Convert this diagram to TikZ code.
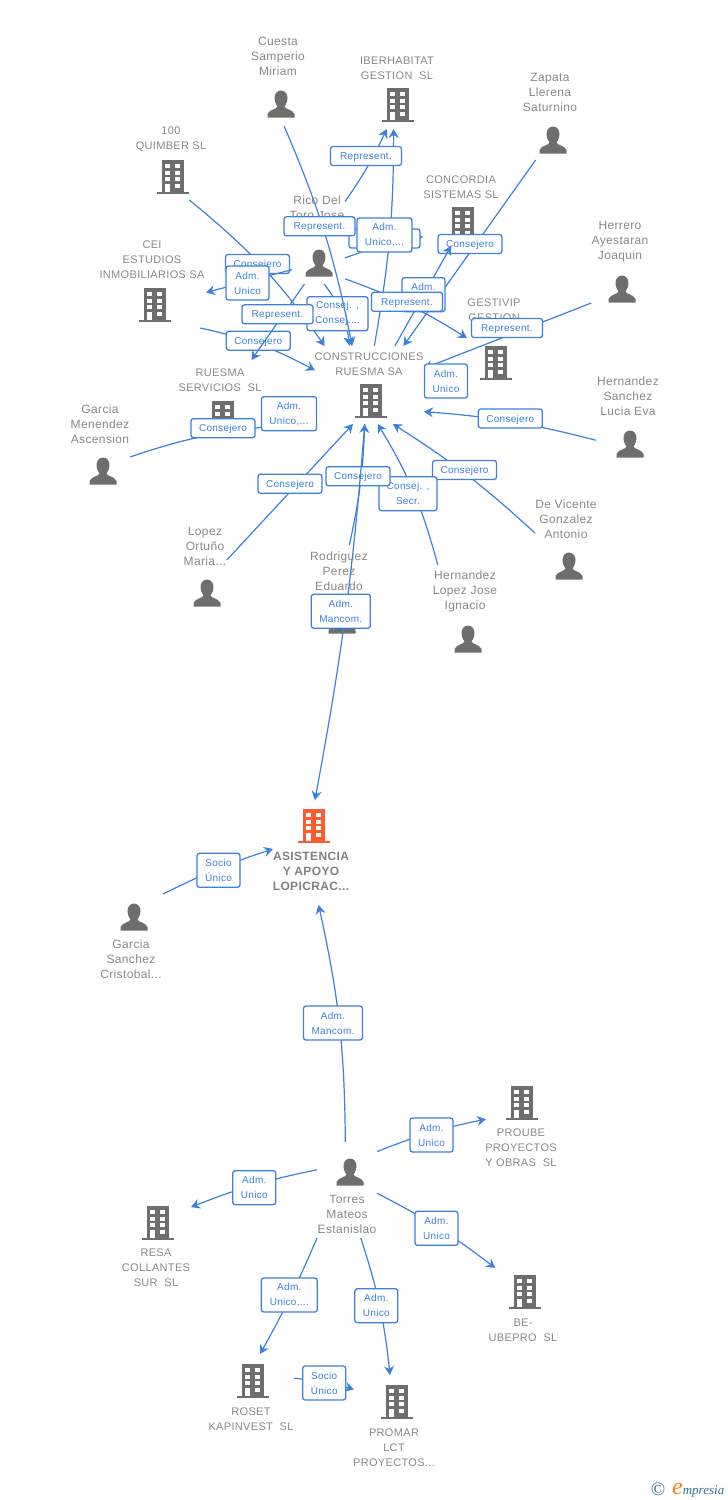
\documentclass[tikz,border=0pt]{standalone}
\usepackage{fontspec}
\setmainfont[LetterSpace=3]{Liberation Sans}
\newfontfamily\logofont{Liberation Serif}
\usetikzlibrary{arrows.meta}
\definecolor{icongrey}{HTML}{6E6E6E}
\definecolor{iconred}{HTML}{FF5B2E}
\definecolor{namegrey}{HTML}{888888}
\definecolor{relblue}{HTML}{3C80E0}
\definecolor{logoteal}{HTML}{2F6F8F}
\definecolor{logoorange}{HTML}{F58220}
\tikzset{
	entitybox/.style={rectangle,inner sep=0pt,outer sep=0pt},
	nametext/.style={align=center,text=namegrey,font=\fontsize{12}{15}\selectfont},
	capstext/.style={align=center,text=namegrey,yshift=-1pt,font=\fontsize{11}{15}\selectfont},
	maintext/.style={align=center,text=namegrey!95!black,font=\fontsize{12}{15}\selectfont\bfseries},
	relbox/.style={draw=relblue,line width=1.3pt,fill=white,rounded corners=2.5pt,align=center,text=relblue,inner sep=0pt,minimum height=19pt,font=\fontsize{10}{15}\selectfont},
	relone/.style={relbox,minimum width=64pt,text height=9.3pt,text depth=2pt},
	relrep/.style={relbox,minimum width=71pt,text height=9.3pt,text depth=2pt},
	reltwo/.style={relbox,minimum width=43pt,minimum height=34pt},
	rel/.style={draw=relblue,line width=1.2pt,-{Stealth[length=9pt,width=10pt,inset=3pt]}},
	relplain/.style={draw=relblue,line width=1.2pt},
	personicon/.pic={
		\fill[icongrey] (0,-13.5) .. controls (4,-13.5) and (6.5,-10) .. (6.5,-6) .. controls (6.5,-2) and (4.5,1) .. (3.5,2.5) .. controls (3.5,5) and (12,5.5) .. (13.5,10) -- (13.5,13.5) -- (-13.5,13.5) -- (-13.5,10) .. controls (-12,5.5) and (-3.5,5) .. (-3.5,2.5) .. controls (-4.5,1) and (-6.5,-2) .. (-6.5,-6) .. controls (-6.5,-10) and (-4,-13.5) .. (0,-13.5) -- cycle;
	},
	buildicon/.pic={
		\fill[#1] (-11,-17) rectangle (11,15);
		\fill[#1] (-16,14.5) rectangle (16,17);
		\foreach \wy in {-13,-6.3,0.3} {
			\fill[white] (-7.7,\wy) rectangle +(5,4);
			\fill[white] (2.3,\wy) rectangle +(5,4);
		}
		\fill[white] (-7.7,7) rectangle (-2.7,14.5);
		\fill[white] (2.3,7) rectangle (7.3,11.3);
	},
}
\begin{document}
\begin{tikzpicture}[x=1pt,y=-1pt]
	\useasboundingbox (0,0) rectangle (728,1500);

	\node[entitybox,minimum width=60pt,minimum height=93pt] (cuesta) at (280,79.5) {};
	\node[nametext] (cuestaname) at (278,56) {Cuesta\\Samperio\\Miriam};
	\pic at (281,104) {personicon};
	\node[entitybox,minimum width=74pt,minimum height=77pt] (iber) at (397,90.5) {};
	\node[capstext] (ibername) at (397,67.5) {IBERHABITAT\\GESTION\ \ SL};
	\pic at (398,105) {buildicon=icongrey};
	\node[entitybox,minimum width=64pt,minimum height=90pt] (zapata) at (552,115) {};
	\node[nametext] (zapataname) at (550,92) {Zapata\\Llerena\\Saturnino};
	\pic at (553,140) {personicon};
	\node[entitybox,minimum width=78pt,minimum height=75pt] (quimber) at (171,162.5) {};
	\node[capstext] (quimbername) at (171,138.5) {100\\QUIMBER SL};
	\pic at (173,177) {buildicon=icongrey};
	\node[entitybox,minimum width=76pt,minimum height=74pt] (concordia) at (461,209) {};
	\node[capstext] (concordianame) at (461,186) {CONCORDIA\\SISTEMAS SL};
	\pic at (463,224) {buildicon=icongrey};
	\node[entitybox,minimum width=53pt,minimum height=92pt] (rico) at (318.5,238) {};
	\node[nametext] (riconame) at (317,207.5) {Rico Del\\Toro Jose};
	\pic at (319,263) {personicon};
	\node[entitybox,minimum width=60pt,minimum height=82pt] (herrero) at (620,262) {};
	\node[nametext] (herreroname) at (620,242) {Herrero\\Ayestaran\\Joaquin};
	\pic at (622,289) {personicon};
	\node[entitybox,minimum width=108pt,minimum height=90pt] (cei) at (152,283) {};
	\node[capstext] (ceiname) at (152,259) {CEI\\ESTUDIOS\\INMOBILIARIOS SA};
	\pic at (155,305) {buildicon=icongrey};
	\node[entitybox,minimum width=55pt,minimum height=88pt] (gestivip) at (494.5,340) {};
	\node[capstext] (gestivipname) at (494,309.5) {GESTIVIP\\GESTION};
	\pic at (496,363) {buildicon=icongrey};
	\node[entitybox,minimum width=109pt,minimum height=78pt] (constr) at (369.5,385) {};
	\node[capstext] (constrname) at (369,363.5) {CONSTRUCCIONES\\RUESMA SA};
	\pic at (371,401) {buildicon=icongrey};
	\node[entitybox,minimum width=88pt,minimum height=78pt] (ruesma) at (221,399) {};
	\node[capstext] (ruesmaname) at (220,379.5) {RUESMA\\SERVICIOS\ \ SL};
	\pic at (223,418) {buildicon=icongrey};
	\node[entitybox,minimum width=64pt,minimum height=86pt] (hsanchez) at (628,417) {};
	\node[nametext] (hsanchezname) at (628,396) {Hernandez\\Sanchez\\Lucia Eva};
	\pic at (630,444) {personicon};
	\node[entitybox,minimum width=60pt,minimum height=83pt] (garciam) at (100,443) {};
	\node[nametext] (garciamname) at (100,424) {Garcia\\Menendez\\Ascension};
	\pic at (103,471) {personicon};
	\node[entitybox,minimum width=64pt,minimum height=86pt] (devicente) at (567,541) {};
	\node[nametext] (devicentename) at (566,519) {De Vicente\\Gonzalez\\Antonio};
	\pic at (569,566) {personicon};
	\node[entitybox,minimum width=50pt,minimum height=84pt] (lopez) at (202,567) {};
	\node[nametext] (lopezname) at (205,546) {Lopez\\Ortuño\\Maria...};
	\pic at (207,593) {personicon};
	\node[entitybox,minimum width=62pt,minimum height=90pt] (rodriguez) at (339,590) {};
	\node[nametext] (rodriguezname) at (339,571) {Rodriguez\\Perez\\Eduardo};
	\pic at (342,620) {personicon};
	\node[entitybox,minimum width=74pt,minimum height=90pt] (hlopez) at (467,610) {};
	\node[nametext] (hlopezname) at (465,591) {Hernandez\\Lopez Jose\\Ignacio};
	\pic at (468,639) {personicon};

	\node[entitybox,minimum width=82pt,minimum height=105pt] (asistencia) at (314,852.5) {};
	\node[maintext] (asistencianame) at (311,871) {ASISTENCIA\\Y APOYO\\LOPICRAC...};
	\pic at (314,826) {buildicon=iconred};
	\node[entitybox,minimum width=63pt,minimum height=90pt] (garcias) at (131.5,939) {};
	\node[nametext] (garciasname) at (131,959) {Garcia\\Sanchez\\Cristobal...};
	\pic at (134,917) {personicon};

	\node[entitybox,minimum width=60pt,minimum height=96pt] (torres) at (347,1190) {};
	\node[nametext] (torresname) at (347,1214) {Torres\\Mateos\\Estanislao};
	\pic at (350,1172) {personicon};
	\node[entitybox,minimum width=74pt,minimum height=84pt] (proube) at (523,1127) {};
	\node[capstext] (proubename) at (521,1147) {PROUBE\\PROYECTOS\\Y OBRAS\ \ SL};
	\pic at (522,1103) {buildicon=icongrey};
	\node[entitybox,minimum width=70pt,minimum height=87pt] (resa) at (156,1246) {};
	\node[capstext] (resaname) at (156,1267) {RESA\\COLLANTES\\SUR\ \ SL};
	\pic at (158,1223) {buildicon=icongrey};
	\node[entitybox,minimum width=62pt,minimum height=76pt] (ubepro) at (526,1306) {};
	\node[capstext] (ubeproname) at (523,1329.5) {BE-\\UBEPRO\ \ SL};
	\pic at (525,1292) {buildicon=icongrey};
	\node[entitybox,minimum width=86pt,minimum height=78pt] (roset) at (251,1393) {};
	\node[capstext] (rosetname) at (251,1418.5) {ROSET\\KAPINVEST\ \ SL};
	\pic at (253,1381) {buildicon=icongrey};
	\node[entitybox,minimum width=82pt,minimum height=95pt] (promar) at (395,1422.5) {};
	\node[capstext] (promarname) at (394,1447) {PROMAR\\LCT\\PROYECTOS...};
	\pic at (397,1402) {buildicon=icongrey};

	\draw[rel] (quimber.-64) to[bend left=8] (constr.139);
	\node[relone] (quimberrel) at (257.5,264) {Consejero};
	\draw[rel] (rico.-130) -- (cei.-10);
	\node[reltwo] (ricocei) at (247.5,283) {Adm.\\Unico};
	\draw[rel] (cei.-43) to[bend left=8] (constr.165);
	\node[relone] (ceirel) at (258.3,340.7) {Consejero};
	\draw[rel] (rico.-83) to[bend left=15] (constr.117);
	\node[reltwo,minimum width=61pt] (ricorel) at (337.5,313.7) {Consej. ,\\Consej....};
	\draw[rel] (rico.-107) -- (ruesma.52);
	\node[relrep] (ricoruesma) at (277.5,314.3) {Represent.};
	\draw[rel] (rico.-37) to[bend left=5] (concordia.-144);
	\node[relrep] (ricoconc) at (384.5,238.5) {};
	\draw[rel] (cuesta.-85) to[bend left=6] (constr.114);
	\node[relrep] (cuestarel) at (319.5,226.3) {Represent.};
	\draw[rel] (constr.83) to[bend right=5] (iber.-95);
	\node[reltwo,minimum width=55pt] (constriber) at (384.5,235) {Adm.\\Unico,...};
	\draw[rel] (rico.54) to[bend right=5] (iber.-105);
	\node[relrep] (ricoiber) at (366,156) {Represent.};
	\draw[rel] (zapata.-110) -- (constr.49);
	\node[relone] (zapatarel) at (470,244) {Consejero};
	\draw[rel] (constr.57) -- (concordia.-105);
	\node[reltwo] (constrconc) at (423.5,294.7) {Adm.\\\phantom{Unico}};
	\draw[rel] (rico.-57) to[bend left=6] (gestivip.176);
	\node[relrep] (ricogest) at (407,301.8) {Represent.};
	\draw[rel] (herrero.-125) -- (constr.17);
	\node[relrep] (herrerorel) at (507,328) {Represent.};
	\draw[rel] (gestivip.-138) -- (constr.-5);
	\node[reltwo] (gestivipconstr) at (446,381) {Adm.\\Unico};
	\draw[rel] (hsanchez.-144) to[bend right=5] (constr.-26);
	\node[relone] (hsanchezrel) at (510.3,418.5) {Consejero};
	\node[reltwo,minimum width=55pt] (ruesmaunico) at (289,413.7) {Adm.\\Unico,...};
	\draw[relplain] (garciam.-25) to[bend left=6] (ruesmaunico.-154);
	\node[relone] (garciamrel) at (223,428.2) {Consejero};
	\draw[rel] (lopez.16) -- (constr.-113);
	\node[relone] (lopezrel) at (290,483.7) {Consejero};
	\draw[rel] (devicente.166) to[bend right=5] (constr.-59);
	\node[relone] (devicenterel) at (464.5,470) {Consejero};
	\draw[rel] (hlopez.123) to[bend right=8] (constr.-78);
	\node[reltwo,minimum width=58pt] (hlopezrel) at (408,493.8) {Consej. ,\\Secr.};
	\draw[rel] (rodriguez.77) to[bend right=5] (constr.-97);
	\node[relone] (rodriguezrel) at (358,476.3) {Consejero};
	\draw[rel] (constr.-97) to[bend left=3] (asistencia.89);
	\node[reltwo,minimum width=59pt] (constrrel) at (340.8,611.2) {Adm.\\Mancom.};

	\draw[rel] (garcias.55) to[bend left=4] (asistencia.175);
	\node[reltwo] (garciasrel) at (218.5,870.3) {Socio\\Único};
	\draw[rel] (torres.92) to[bend right=6] (asistencia.-85);
	\node[reltwo,minimum width=59pt] (torresrel) at (333,1023) {Adm.\\Mancom.};
	\draw[rel] (torres.52) to[bend left=5] (proube.168);
	\node[reltwo] (torresproube) at (431.5,1135) {Adm.\\Unico};
	\draw[rel] (torres.146) to[bend right=5] (resa.48);
	\node[reltwo] (torresresa) at (254.3,1187.7) {Adm.\\Unico};
	\draw[rel] (torres.-6) to[bend left=5] (ubepro.129);
	\node[reltwo] (torresubepro) at (436.5,1228.3) {Adm.\\Unico};
	\draw[rel] (torres.-122) to[bend left=3] (roset.77);
	\node[reltwo,minimum width=56pt] (torresroset) at (289.3,1295) {Adm.\\Unico,...};
	\draw[rel] (torres.-74) to[bend left=6] (promar.96);
	\node[reltwo] (torrespromar) at (376.3,1305.7) {Adm.\\Unico};
	\draw[rel] (roset.19) to[bend left=5] (promar.141);
	\node[reltwo] (rosetpromar) at (324.2,1383) {Socio\\Único};

	\node[inner sep=0pt,text=logoteal,font=\logofont\fontsize{19}{19}\selectfont] (logocopy) at (658,1489) {©};
	\node[inner sep=0pt,anchor=base west,text=logoteal,font=\logofont\fontsize{13}{13}\selectfont\itshape] (logoname) at (672,1494) {\textcolor{logoorange}{\fontsize{24}{24}\selectfont e}mpresia};
\end{tikzpicture}
\end{document}
